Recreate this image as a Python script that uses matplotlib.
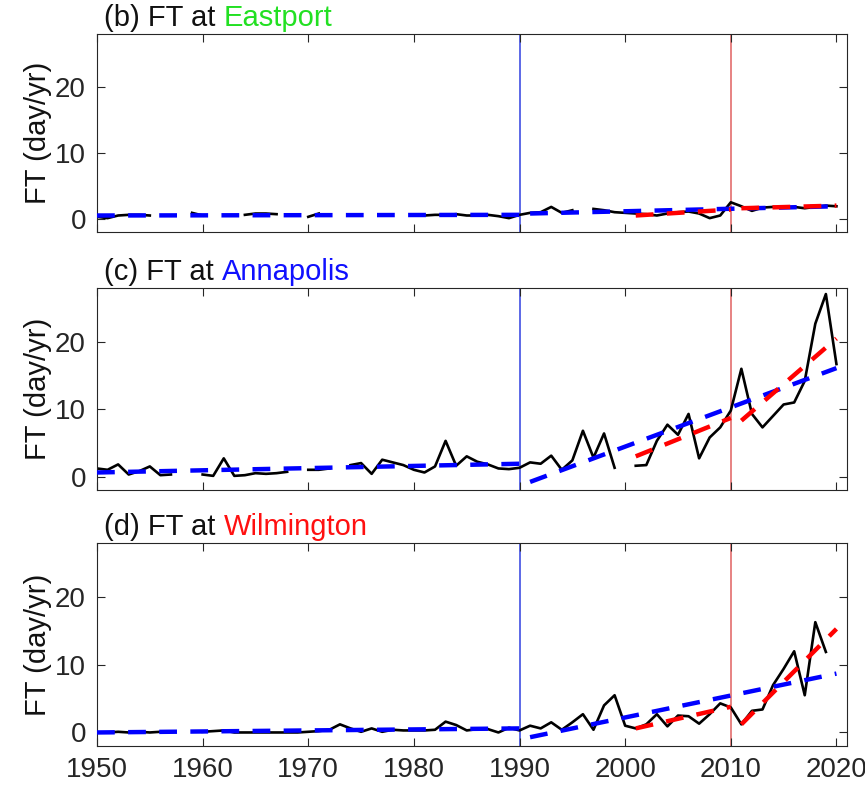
import matplotlib.pyplot as plt
import numpy as np

plt.rcParams['font.family'] = ['Liberation Sans', 'DejaVu Sans']

nan = np.nan
years = np.arange(1950, 2021)

# annual flood days (FT); nan = missing year
ft_eastport = [0.3, 0.1, 0.5, 0.6, 0.6, 0.5, nan, nan, nan, 0.9,
               0.5, nan, nan, nan, 0.6, 0.8, 0.8, 0.7, nan, nan,
               0.3, 0.8, nan, nan, nan, nan, nan, nan, nan, nan,
               nan, 0.5, 0.6, 0.6, 0.7, 0.5, 0.5, 0.6, 0.4, 0.1,
               0.6, 0.9, 1.0, 1.8, 0.9, 1.3, nan, 1.5, 1.3, 1.0,
               0.9, 0.8, 0.7, 0.5, 0.8, 1.0, 1.1, 0.8, 0.1, 0.5,
               2.5, 1.9, 1.2, 1.7, 1.8, 1.7, 1.8, 1.6, 1.8, 2.0,
               1.9]
ft_annapolis = [1.2, 1.0, 1.8, 0.3, 0.8, 1.5, 0.2, 0.3, nan, nan,
                0.3, 0.1, 2.7, 0.1, 0.2, 0.5, 0.4, 0.5, 0.7, nan,
                1.0, 1.0, 1.2, nan, 1.7, 2.0, 0.4, 2.5, 2.1, 1.7,
                1.0, 0.6, 1.5, 5.3, 1.6, 3.0, 2.2, 1.8, 1.2, 1.1,
                1.3, 2.1, 1.9, 3.1, 1.0, 2.4, 6.8, 2.8, 6.4, 1.3,
                nan, 1.6, 1.7, 5.3, 7.7, 6.2, 9.3, 2.7, 5.8, 7.3,
                9.8, 16.0, 9.3, 7.3, 9.0, 10.7, 11.0, 14.2, 22.7, 27.1,
                16.7]
ft_wilmington = [0.0, 0.0, 0.1, 0.0, 0.1, 0.0, 0.1, nan, nan, nan,
                 0.1, 0.2, 0.3, 0.0, 0.0, 0.0, 0.0, 0.0, 0.0, 0.0,
                 0.1, 0.2, 0.4, 1.2, 0.6, 0.1, 0.6, 0.1, 0.4, 0.3,
                 0.3, 0.3, 0.4, 1.6, 1.1, 0.3, 0.5, 0.5, 0.0, 0.7,
                 0.3, 1.0, 0.6, 1.5, 0.4, 1.5, 2.7, 0.4, 4.0, 5.5,
                 1.0, 0.6, 1.2, 2.7, 0.9, 2.5, 2.4, 1.3, 2.7, 4.3,
                 3.7, 1.2, 3.2, 3.4, 7.0, 9.4, 12.0, 5.5, 16.3, 11.9,
                 nan]

# linear trends: (start year, end year) and (start value, end value)
trend_periods = [(1950, 1990), (1991, 2020), (2001, 2010), (2011, 2020)]
trend_colors = ['#0000ff', '#0000ff', '#ff0000', '#ff0000']
trend_eastport = [(0.5, 0.6), (0.8, 1.9), (0.5, 1.4), (1.6, 2.0)]
trend_annapolis = [(0.6, 1.9), (-0.8, 16.1), (3.0, 8.7), (8.3, 20.5)]
trend_wilmington = [(0.0, 0.6), (-0.7, 8.7), (0.6, 3.8), (1.2, 15.3)]

labels = ['(b)', '(c)', '(d)']
stations = ['Eastport', 'Annapolis', 'Wilmington']
station_colors = ['#22e022', '#1010ff', '#ff1010']
series = [ft_eastport, ft_annapolis, ft_wilmington]
trends = [trend_eastport, trend_annapolis, trend_wilmington]

fig = plt.figure(figsize=(8.65, 7.93), dpi=100)
W, H = 865, 793
left, right = 97, 847
tops = [34, 288, 543]
bots = [232, 490, 746]

renderer = fig.canvas.get_renderer()
for i in range(3):
    ax = fig.add_axes([left / W, 1 - bots[i] / H, (right - left) / W, (bots[i] - tops[i]) / H])
    ax.axvline(1990, color='#3040e0', lw=1.1, zorder=1)
    ax.axvline(2010, color='#e06060', lw=1.1, zorder=1)
    ax.plot(years, series[i], color='black', lw=1.9, zorder=2)
    for (y0, y1), (v0, v1), c in zip(trend_periods, trends[i], trend_colors):
        ax.plot([y0, y1], [v0, v1], color=c, lw=3.2, dashes=(4, 3), zorder=3)

    ax.set_xlim(1950, 2021)
    ax.set_ylim(-2, 28)
    ax.set_xticks(np.arange(1950, 2021, 10))
    ax.set_yticks([0, 10, 20])
    ax.tick_params(direction='in', length=6, width=0.8, top=True, right=True,
                   labelsize=20, pad=8, colors='#262626')
    if i < 2:
        ax.set_xticklabels([])
    for s in ax.spines.values():
        s.set_color('#262626')
        s.set_linewidth(0.8)
    ax.set_ylabel('FT (day/yr)', fontsize=21, labelpad=2, color='#111111')

    t = ax.text(0.01, 1.04, labels[i] + ' FT at ', transform=ax.transAxes,
                ha='left', va='baseline', fontsize=21, color='#111111')
    bb = t.get_window_extent(renderer=renderer)
    x1 = ax.transAxes.inverted().transform((bb.x1, bb.y0))[0]
    ax.text(x1, 1.04, stations[i], transform=ax.transAxes, ha='left',
            va='baseline', fontsize=21, color=station_colors[i])

fig.savefig('out.png', dpi=100)
